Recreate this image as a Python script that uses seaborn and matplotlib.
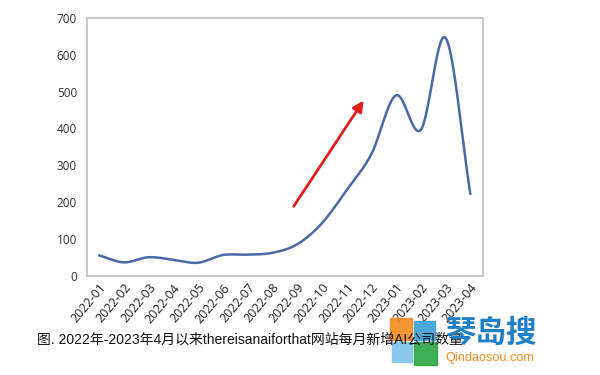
import numpy as np
import pandas as pd
import seaborn as sns
import matplotlib.pyplot as plt
from matplotlib.patches import FancyArrowPatch, Rectangle

# ─── Data ────────────────────────────────────────────────────────────
months = ["2022-01", "2022-02", "2022-03", "2022-04", "2022-05", "2022-06",
          "2022-07", "2022-08", "2022-09", "2022-10", "2022-11", "2022-12",
          "2023-01", "2023-02", "2023-03", "2023-04"]
new_ai = [55, 36, 50, 43, 35, 56, 57, 62, 85, 142, 232, 330,
          490, 396, 646, 222]
y_ticks = [0, 100, 200, 300, 400, 500, 600, 700]
caption = "图. 2022年-2023年4月以来thereisanaiforthat网站每月新增AI公司数量"

# trend arrow (category index, value)
arrow_start = (7.8, 182)
arrow_end = (10.75, 482)


def smooth(xs, ys, n=20):
    """Catmull-Rom curve through the points (like Excel's smoothed line)."""
    xs, ys = np.asarray(xs, float), np.asarray(ys, float)
    px = np.concatenate([[2 * xs[0] - xs[1]], xs, [2 * xs[-1] - xs[-2]]])
    py = np.concatenate([[2 * ys[0] - ys[1]], ys, [2 * ys[-1] - ys[-2]]])
    ox, oy = [], []
    t = np.linspace(0, 1, n, endpoint=False)
    for i in range(1, len(px) - 2):
        for p, out in ((px, ox), (py, oy)):
            p0, p1, p2, p3 = p[i - 1], p[i], p[i + 1], p[i + 2]
            out.extend(0.5 * (2 * p1 + (-p0 + p2) * t
                              + (2 * p0 - 5 * p1 + 4 * p2 - p3) * t ** 2
                              + (-p0 + 3 * p1 - 3 * p2 + p3) * t ** 3))
    ox.append(xs[-1]); oy.append(ys[-1])
    return np.array(ox), np.array(oy)


df = pd.DataFrame({"idx": np.arange(len(months)), "value": new_ai})
sx, sy = smooth(df["idx"], df["value"])
curve = pd.DataFrame({"idx": sx, "value": sy})

# ─── Plot ────────────────────────────────────────────────────────────
sns.set_style("white")
plt.rcParams["font.family"] = ["Open Sans", "DejaVu Sans"]

fig = plt.figure(figsize=(6, 3.75), dpi=100)
ax = fig.add_axes([0.1445, 0.265, 0.66, 0.687])

sns.lineplot(data=curve, x="idx", y="value", ax=ax, color="#4a69a6",
             linewidth=1.8, sort=False)

ax.add_patch(FancyArrowPatch(arrow_start, arrow_end, arrowstyle="-|>",
                             mutation_scale=16, color="#e0201c", lw=2))

ax.set_xlim(-0.5, len(months) - 0.5)
ax.set_ylim(0, 700)
ax.set_yticks(y_ticks)
ax.set_yticklabels([str(v) for v in y_ticks], fontsize=8.5, color="#333333")
ax.set_xticks(df["idx"])
ax.set_xticklabels(months, fontsize=9, color="#222222", rotation=50,
                   ha="right", va="top", rotation_mode="anchor")
ax.tick_params(axis="y", length=0, pad=7)
ax.tick_params(axis="x", length=0, pad=4)
ax.set_xlabel("")
ax.set_ylabel("")
for sp in ax.spines.values():
    sp.set_color("#c8c8c8")
    sp.set_linewidth(1.4)

fig.text(0.062, 0.093, caption, fontsize=10, color="#111111",
         family=["Liberation Sans", "Noto Sans CJK SC"], va="center")

# watermark logo
for (x0, y0, w, h, c) in [(390, 318, 22, 22, "#f28c1e"), (414, 321, 21, 19, "#3aa0d8"),
                          (392, 342, 20, 20, "#7fc4ea"), (414, 342, 23, 23, "#2aa541")]:
    fig.add_artist(Rectangle((x0 / 600, 1 - (y0 + h) / 375), w / 600, h / 375,
                             transform=fig.transFigure, color=c, alpha=0.9))
fig.text(0.742, 0.113, "琴岛搜", fontsize=22, color="#1c7fc7", weight="bold",
         family=["Noto Sans CJK SC"], va="center")
fig.text(0.742, 0.045, "Qindaosou.com", fontsize=9.2, color="#f28c1e",
         family=["Liberation Sans"], va="center")

fig.savefig("out.png", dpi=100)
